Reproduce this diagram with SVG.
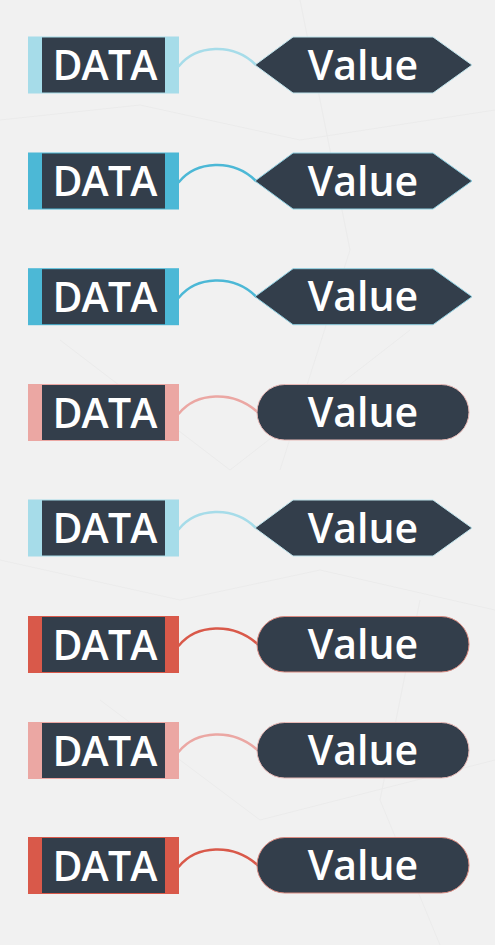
<svg xmlns="http://www.w3.org/2000/svg" width="495" height="945" viewBox="0 0 495 945">
<style>
.bg{fill:#f1f1f1}
.tex{stroke:#ebebeb;stroke-width:1;fill:none}
.core{fill:#333e4b;stroke:none}
.lbl{font-family:"Open Sans","Liberation Sans",sans-serif;font-weight:600;font-size:41px;fill:#ffffff;stroke:none;text-anchor:middle}
.dl{letter-spacing:-0.8px}
.wire{fill:none;stroke-width:2.5;stroke-linecap:round}
.lb{fill:#a6dce9;stroke:none}
.mb{fill:#4cb8d6;stroke:none}
.lp{fill:#eba7a3;stroke:none}
.rd{fill:#d9594a;stroke:none}
.w-lb{stroke:#a6dce9}.w-mb{stroke:#4cb8d6}.w-lp{stroke:#eba7a3}.w-rd{stroke:#d9594a}
.val{fill:#333e4b;stroke-width:1}
</style>
<defs>
<g id="box">
<rect x="28" y="0" width="151" height="57"/>
<rect class="core" x="42" y="1" width="123" height="55"/>
<text class="lbl dl" x="104.5" y="43.5">DATA</text>
</g>
<path id="hex" d="M255,28.5 L293,0.5 L433,0.5 L472,28.5 L433,56.5 L293,56.5 Z"/>
<rect id="pill" x="257" y="0.5" width="212" height="55.5" rx="27.75"/>
</defs>
<rect class="bg" x="0" y="0" width="495" height="945"/>
<g id="texture">
<path class="tex" d="M0,120 L140,105 L300,140 L495,110"/>
<path class="tex" d="M60,340 L230,470 L410,330"/>
<path class="tex" d="M0,560 L180,600 L320,570 L495,610"/>
<path class="tex" d="M100,700 L260,820 L495,760"/>
<path class="tex" d="M300,0 L350,250 L280,470"/>
<path class="tex" d="M420,600 L380,800 L440,945"/>
</g>
<g id="connectors">
<path class="wire w-lb" d="M179,66 C196,45 233,42 256,65"/>
<path class="wire w-mb" d="M179,182 C196,161 233,158 256,181"/>
<path class="wire w-mb" d="M179,297.5 C196,276.5 233,273.5 256,296.5"/>
<path class="wire w-lp" d="M179,413.5 C196,392.5 233,389.5 258,412.5"/>
<path class="wire w-lb" d="M179,529 C196,508 233,505 256,528"/>
<path class="wire w-rd" d="M179,645.5 C196,624.5 233,621.5 258,644.5"/>
<path class="wire w-lp" d="M179,751.5 C196,730.5 233,727.5 258,750.5"/>
<path class="wire w-rd" d="M179,866.5 C196,845.5 233,842.5 258,865.5"/>
</g>
<g id="data1" class="lb"><use href="#box" y="36.5"/></g>
<g id="value1"><use href="#hex" y="36.5" class="val" stroke="#bfe3ec"/><text class="lbl" x="363" y="79.5">Value</text></g>
<g id="data2" class="mb"><use href="#box" y="152.5"/></g>
<g id="value2"><use href="#hex" y="152.5" class="val" stroke="#8fcfe1"/><text class="lbl" x="363" y="195.5">Value</text></g>
<g id="data3" class="mb"><use href="#box" y="268.2"/></g>
<g id="value3"><use href="#hex" y="268.2" class="val" stroke="#8fcfe1"/><text class="lbl" x="363" y="311.2">Value</text></g>
<g id="data4" class="lp"><use href="#box" y="384"/></g>
<g id="value4"><use href="#pill" y="384" class="val" stroke="#e8b9b6"/><text class="lbl" x="363" y="427">Value</text></g>
<g id="data5" class="lb"><use href="#box" y="499.5"/></g>
<g id="value5"><use href="#hex" y="499.5" class="val" stroke="#bfe3ec"/><text class="lbl" x="363" y="542.5">Value</text></g>
<g id="data6" class="rd"><use href="#box" y="616"/></g>
<g id="value6"><use href="#pill" y="616" class="val" stroke="#d98a80"/><text class="lbl" x="363" y="659">Value</text></g>
<g id="data7" class="lp"><use href="#box" y="722"/></g>
<g id="value7"><use href="#pill" y="722" class="val" stroke="#e8b9b6"/><text class="lbl" x="363" y="765">Value</text></g>
<g id="data8" class="rd"><use href="#box" y="837"/></g>
<g id="value8"><use href="#pill" y="837" class="val" stroke="#d98a80"/><text class="lbl" x="363" y="880">Value</text></g>
</svg>
